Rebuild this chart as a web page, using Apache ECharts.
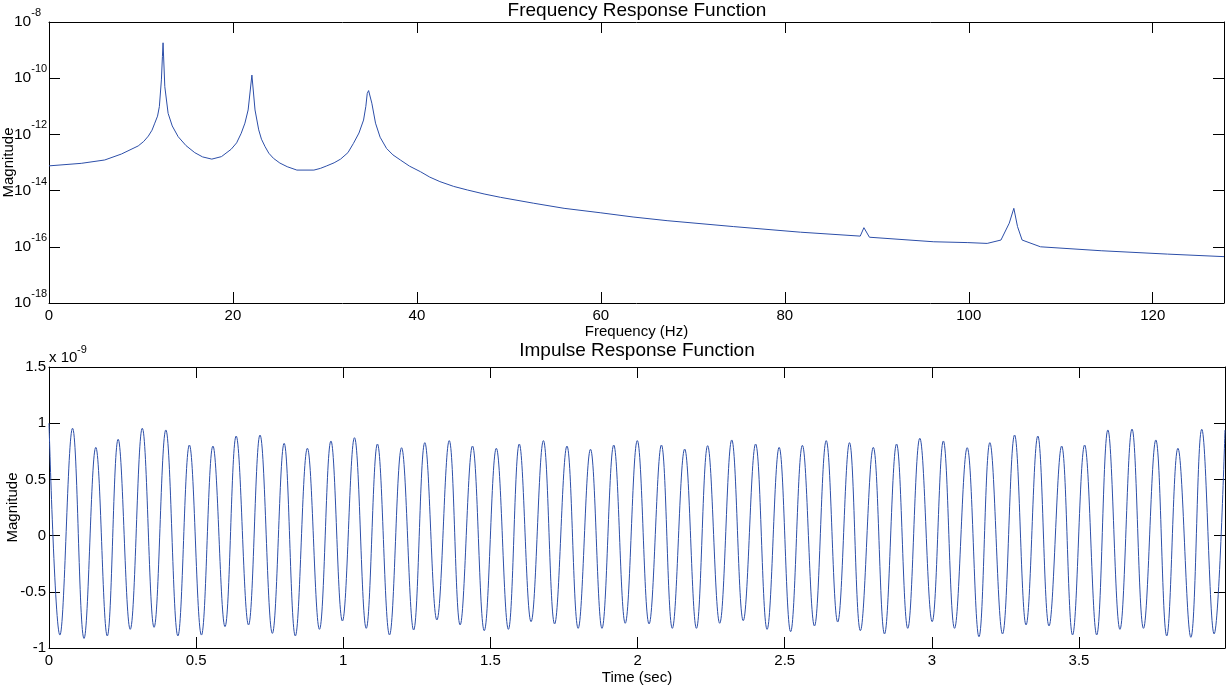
<!DOCTYPE html>
<html><head><meta charset="utf-8">
<script src="https://cdn.jsdelivr.net/npm/echarts@6/dist/echarts.min.js"></script>
<style>html,body{margin:0;padding:0;background:#fff}#c{width:1229px;height:687px}</style>
</head><body><div id="c"></div>
<script>
// ---- Frequency Response Function (magnitude vs Hz) ----
const freqHz = [0, 3.5, 6.06, 7.87, 9.7, 10.3, 10.8, 11.2, 11.5, 11.8,
  12.0, 12.22, 12.33, 12.4, 12.59, 12.95, 13.4, 14.04, 14.9, 15.85,
  16.7, 17.7, 18.75, 19.8, 20.4, 20.9, 21.3, 21.65, 22.06, 22.4,
  22.8, 23.1, 23.5, 23.9, 24.4, 25.1, 25.9, 26.95, 28.8, 29.5,
  30.2, 31.0, 31.7, 32.5, 33.1, 33.7, 34.2, 34.45, 34.6, 34.75,
  34.96, 35.1, 35.5, 36.0, 36.7, 37.4, 38.2, 39.2, 40.4, 41.4,
  42.5, 44.0, 45.5, 47.3, 49.1, 52.7, 56.0, 60.0, 63.5, 67.2,
  74.4, 81.7, 88.2, 88.6, 89.2, 96.2, 99.9, 102.0, 103.5, 104.4,
  104.9, 105.3, 105.8, 107.8, 114.4, 121.6, 127.75];
const frfMag = [7.59e-14, 9.33e-14, 1.23e-13, 2.0e-13, 3.89e-13, 5.62e-13, 8.71e-13, 1.41e-12, 2.51e-12, 4.47e-12,
  9.77e-12, 8.71e-11, 5.89e-10, 1.82e-9, 5.01e-11, 5.62e-12, 2.0e-12, 8.32e-13, 3.98e-13, 2.24e-13,
  1.58e-13, 1.32e-13, 1.62e-13, 2.95e-13, 5.01e-13, 1.10e-12, 2.51e-12, 7.41e-12, 1.29e-10, 7.41e-12,
  1.45e-12, 6.76e-13, 3.63e-13, 2.14e-13, 1.41e-13, 9.55e-14, 7.08e-14, 5.37e-14, 5.37e-14, 6.17e-14,
  7.59e-14, 9.77e-14, 1.32e-13, 2.24e-13, 4.79e-13, 1.12e-12, 3.24e-12, 1.0e-11, 2.88e-11, 3.63e-11,
  3.80e-11, 1.29e-11, 2.51e-12, 7.94e-13, 3.16e-13, 1.86e-13, 1.23e-13, 7.41e-14, 4.68e-14, 3.02e-14,
  2.09e-14, 1.41e-14, 1.05e-14, 7.59e-15, 5.75e-15, 3.55e-15, 2.34e-15, 1.62e-15, 1.15e-15, 8.51e-16,
  5.25e-16, 3.31e-16, 2.40e-16, 4.79e-16, 2.19e-16, 1.51e-16, 1.41e-16, 1.32e-16, 1.74e-16, 6.92e-16,
  2.34e-15, 5.25e-16, 1.74e-16, 1.0e-16, 7.24e-17, 5.50e-17, 4.47e-17];

// ---- Impulse Response Function (magnitude in units of 1e-9 vs seconds) ----
const timeSec = [0, 0.037, 0.08, 0.119, 0.159, 0.198, 0.235, 0.276, 0.317, 0.357, 0.397, 0.438, 0.477, 0.518, 0.557,
  0.598, 0.636, 0.678, 0.717, 0.759, 0.799, 0.837, 0.878, 0.919, 0.958, 0.997, 1.038, 1.078, 1.116, 1.157, 1.198,
  1.239, 1.277, 1.318, 1.36, 1.397, 1.439, 1.479, 1.52, 1.561, 1.598, 1.638, 1.68, 1.718, 1.76, 1.798, 1.84, 1.879,
  1.919, 1.958, 1.999, 2.039, 2.081, 2.118, 2.16, 2.2, 2.238, 2.279, 2.32, 2.359, 2.401, 2.44, 2.481, 2.52, 2.56,
  2.601, 2.641, 2.68, 2.72, 2.757, 2.801, 2.839, 2.88, 2.918, 2.959, 3.001, 3.039, 3.077, 3.12, 3.16, 3.197, 3.24,
  3.281, 3.32, 3.36, 3.398, 3.441, 3.478, 3.519, 3.56, 3.598, 3.639, 3.68, 3.719, 3.761, 3.798, 3.836, 3.88, 3.917,
  3.959, 3.996];
const irfMag = [1.0, -0.885, 0.955, -0.915, 0.785, -0.893, 0.857, -0.834, 0.955, -0.816, 0.94, -0.893, 0.806, -0.885, 0.797,
  -0.81, 0.886, -0.795, 0.895, -0.87, 0.821, -0.893, 0.777, -0.834, 0.842, -0.76, 0.871, -0.825, 0.815, -0.884, 0.782,
  -0.84, 0.827, -0.751, 0.845, -0.795, 0.797, -0.846, 0.777, -0.834, 0.815, -0.766, 0.845, -0.786, 0.797, -0.825, 0.768, -0.825,
  0.806, -0.78, 0.845, -0.786, 0.806, -0.825, 0.77, -0.825, 0.8, -0.78, 0.851, -0.757, 0.815, -0.834, 0.785, -0.855, 0.803,
  -0.804, 0.845, -0.769, 0.827, -0.846, 0.785, -0.875, 0.815, -0.825, 0.866, -0.766, 0.842, -0.825, 0.782, -0.9, 0.827, -0.875,
  0.895, -0.795, 0.886, -0.804, 0.797, -0.884, 0.806, -0.884, 0.94, -0.834, 0.948, -0.825, 0.851, -0.893, 0.777, -0.905, 0.946,
  -0.875, 0.94];

const FONT = '"Liberation Sans", Arial, Helvetica, sans-serif';
const LINE = '#2c4ea8';
const frame = {show: true, onZero: false, lineStyle: {color: '#000', width: 1}};
const tickIn = {show: true, inside: true, length: 11, lineStyle: {color: '#000', width: 1}};
const nameStyle = {color: '#000', fontSize: 15, fontFamily: FONT};

function mirror(gridIndex, type, pos, min, max, extra) {
  return Object.assign({gridIndex, type, position: pos, min, max, axisLine: frame, axisTick: tickIn,
    axisLabel: {show: false}, splitLine: {show: false}}, extra || {});
}

const chart = echarts.init(document.getElementById('c'), null, {renderer: 'canvas'});
chart.setOption({
  animation: false,
  textStyle: {fontFamily: FONT},
  graphic: [
    {type: 'text', x: 637, y: 11, style: {text: 'Frequency Response Function', font: '19px ' + FONT, fill: '#000', textAlign: 'center', textVerticalAlign: 'middle'}},
    {type: 'text', x: 637, y: 351, style: {text: 'Impulse Response Function', font: '19px ' + FONT, fill: '#000', textAlign: 'center', textVerticalAlign: 'middle'}},
    {type: 'text', x: 49, y: 358, style: {text: 'x 10', font: '15px ' + FONT, fill: '#000', textAlign: 'left', textVerticalAlign: 'middle'}},
    {type: 'text', x: 77, y: 350, style: {text: '-9', font: '11px ' + FONT, fill: '#000', textAlign: 'left', textVerticalAlign: 'middle'}}
  ],
  grid: [
    {left: 49, right: 5, top: 22, height: 281, outerBoundsMode: 'none', containLabel: false},
    {left: 49, right: 4, top: 367, height: 281, outerBoundsMode: 'none', containLabel: false}
  ],
  xAxis: [
    {gridIndex: 0, type: 'value', position: 'bottom', min: 0, max: 127.75, interval: 20,
      axisLine: frame, axisTick: tickIn, splitLine: {show: false},
      axisLabel: {color: '#000', fontSize: 15, fontFamily: FONT, margin: 5, showMaxLabel: false},
      name: 'Frequency (Hz)', nameLocation: 'middle', nameGap: 21, nameMoveOverlap: false, nameTextStyle: nameStyle},
    mirror(0, 'value', 'top', 0, 127.75, {interval: 20}),
    {gridIndex: 1, type: 'value', position: 'bottom', min: 0, max: 3.996, interval: 0.5,
      axisLine: frame, axisTick: tickIn, splitLine: {show: false},
      axisLabel: {color: '#000', fontSize: 15, fontFamily: FONT, margin: 5, showMaxLabel: false},
      name: 'Time (sec)', nameLocation: 'middle', nameGap: 22, nameMoveOverlap: false, nameTextStyle: nameStyle},
    mirror(1, 'value', 'top', 0, 3.996, {interval: 0.5})
  ],
  yAxis: [
    {gridIndex: 0, type: 'log', logBase: 10, min: 1e-18, max: 1e-8, interval: 2,
      axisLine: frame, axisTick: tickIn, minorTick: {show: false}, splitLine: {show: false},
      axisLabel: {align: 'left', margin: 35, color: '#000',
        formatter: v => '{b|10}{s|' + Math.round(Math.log10(v)) + '}',
        rich: {b: {fontSize: 15.5, fontFamily: FONT, color: '#000'},
               s: {fontSize: 11, fontFamily: FONT, color: '#000', padding: [0, 0, 18, 0]}}},
      name: 'Magnitude', nameLocation: 'middle', nameGap: 33, nameRotate: 90, nameMoveOverlap: false, nameTextStyle: nameStyle},
    mirror(0, 'log', 'right', 1e-18, 1e-8, {logBase: 10, interval: 2}),
    {gridIndex: 1, type: 'value', min: -1, max: 1.5, interval: 0.5,
      axisLine: frame, axisTick: tickIn, splitLine: {show: false},
      axisLabel: {color: '#000', fontSize: 15, fontFamily: FONT, margin: 3},
      name: 'Magnitude', nameLocation: 'middle', nameGap: 29, nameRotate: 90, nameMoveOverlap: false, nameTextStyle: nameStyle},
    mirror(1, 'value', 'right', -1, 1.5, {interval: 0.5})
  ],
  series: [
    {type: 'line', xAxisIndex: 0, yAxisIndex: 0, showSymbol: false, symbol: 'none',
      lineStyle: {color: LINE, width: 1}, data: freqHz.map((f, i) => [f, frfMag[i]])},
    {type: 'line', xAxisIndex: 2, yAxisIndex: 2, showSymbol: false, symbol: 'none', smooth: 0.4,
      lineStyle: {color: LINE, width: 1}, data: timeSec.map((t, i) => [t, irfMag[i]])}
  ]
});
</script></body></html>
